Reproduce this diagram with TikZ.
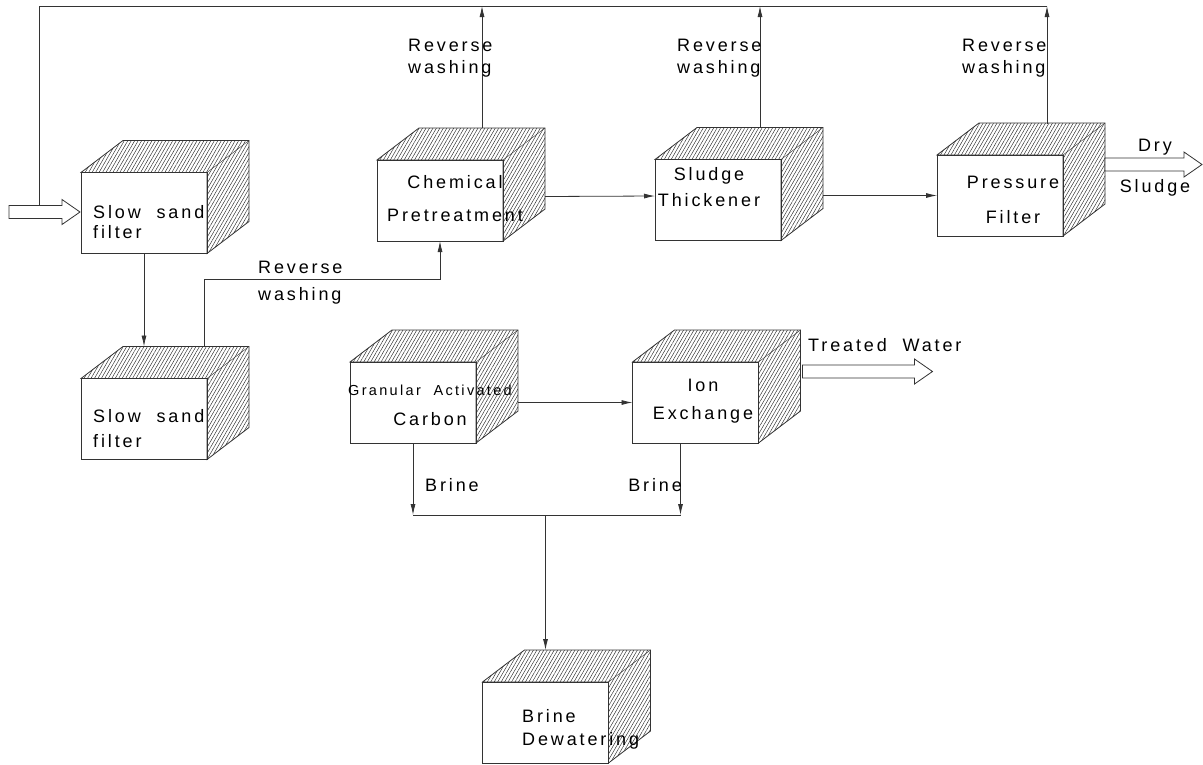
\documentclass[tikz,border=0pt]{standalone}
\usepackage{fontspec}
\setmainfont{Liberation Sans}[LetterSpace=16, WordSpace=2]
\usetikzlibrary{calc,positioning,arrows.meta,patterns.meta}

\tikzset{
  tank/.style={draw=black!80, line width=0.8pt, fill=white, minimum width=126pt, minimum height=81pt, inner sep=0pt, outer sep=0pt},
  txt/.style={font=\fontsize{18}{21}\selectfont, inner sep=0pt},
  wire/.style={draw=black!80, line width=0.8pt},
  link/.style={wire, -{Latex[length=11pt,width=5pt]}},
  hatch/.style={draw=black!80, line width=0.8pt, pattern={Lines[angle=60,distance=3pt,line width=0.45pt]}, pattern color=black!85},
  hollow/.style={draw=black!80, line width=0.8pt, fill=white},
}

% hollow arrow: name, start (middle of tail), length
\newcommand{\bigarrow}[3]{%
  \path (#2) coordinate (#1);
  \draw[hollow] (#1) ++(0,-6.5) -- ++({#3-18},0) -- ++(0,-6) -- ++(18,12.5)
    -- ++(-18,12.5) -- ++(0,-6) -- ++({18-#3},0) -- cycle;}

\begin{document}
\begin{tikzpicture}[x=1pt, y=-1pt]
\useasboundingbox (0,0) rectangle (1203,764);

% process units
\node[tank] (sand1) at (144,213) {};
\node[tank] (sand2) at (144,419) {};
\node[tank] (chem) at (440,200.5) {};
\node[tank] (thick) at (718,200) {};
\node[tank] (press) at (1000,195.5) {};
\node[tank] (gac) at (413,402.5) {};
\node[tank] (ion) at (695.5,402.5) {};
\node[tank] (dewat) at (545.5,722.5) {};
\foreach \b in {sand1,sand2,chem,thick,press,gac,ion,dewat}{
  \draw[hatch] (\b.north west) -- ++(42,-32) -- ++(126,0) -- ++(0,81)
    -- ++(-42,32) -- (\b.north east) -- cycle;
  \draw[wire, line width=0.4pt] (\b.north east) -- ++(42,-32);
}

% unit names
\node[txt, align=left, anchor=west] (sand1-t) at (93,222.5) {Slow sand\\[-1pt]filter};
\node[txt, align=left, anchor=west] (sand2-t) at (93,428.5) {Slow sand\\[4pt]filter};
\node[txt, align=center] (chem-t) at (455,198.5) {Chemical\\[12pt]Pretreatment};
\node[txt, align=center] (thick-t) at (709,187) {Sludge\\[5pt]Thickener};
\node[txt, align=center] (press-t) at (1013,200) {Pressure\\[14pt]Filter};
\node[txt, align=center] (gac-t) at (430,405) {{\fontsize{14.5}{16}\selectfont Granular Activated}\\[9pt]Carbon};
\node[txt, align=center] (ion-t) at (703,401) {Ion\\[7pt]Exchange};
\node[txt, align=left, anchor=west] (dewat-t) at (522,729) {Brine\\[2pt]Dewatering};

% return line for the washing water
\coordinate (top) at (39,6);
\path ($(chem.north)+(42,-32)$) coordinate (chem-up)
      ($(thick.north)+(42,-32)$) coordinate (thick-up)
      ($(press.north)+(47,-31)$) coordinate (press-up);
\bigarrow{inlet}{9,212}{71}
\draw[wire] ($(inlet)+(30,-6.5)$) |- (press-up |- top);
\foreach \u in {chem-up,thick-up,press-up}
  \draw[link] (\u) -- (\u |- top);
\node[txt, align=left, anchor=west] (rw1) at (408,58) {Reverse\\[1pt]washing};
\node[txt, align=left, anchor=west] (rw2) at (677,58) {Reverse\\[1pt]washing};
\node[txt, align=left, anchor=west] (rw3) at (962,58.5) {Reverse\\[1pt]washing};

% sludge line
\draw[link] (sand1.south) -- ($(sand2.north)+(0,-32)$);
\draw[link] ($(sand2.north)+(60,-32)$) -- ++(0,-67) -| (chem.south);
\node[txt, align=left, anchor=west] (rw0) at (258,282.5) {Reverse\\[6pt]washing};
\draw[link] ($(chem.east)+(42,-4)$) -- ($(thick.west)+(0,-4)$);
\draw[link] ($(thick.east)+(42,-4.5)$) -- (press.west);
\bigarrow{dry}{$(press.east)+(42,-31)$}{97}
\node[txt, align=center] (dry-t) at (1155,167.5) {Dry\\[20pt]Sludge};

% water line
\draw[link] ($(gac.east)+(42,0)$) -- (ion.west);
\bigarrow{treated}{$(ion.east)+(44,-31)$}{130}
\node[txt, anchor=west] (treated-t) at (808,345.5) {Treated Water};

% brine
\coordinate (brine) at (545.5,515);
\path ($(ion.south)+(-15,0)$) coordinate (ion-b);
\draw[link] (gac.south) -- (gac.south |- brine);
\draw[link] (ion-b) -- (ion-b |- brine);
\draw[wire] (gac.south |- brine) -- (ion-b |- brine);
\draw[link] (brine) -- ($(dewat.north)+(0,-32)$);
\node[txt, anchor=west] (brine1) at (425,485) {Brine};
\node[txt, anchor=east] (brine2) at (682,485) {Brine};
\end{tikzpicture}
\end{document}
